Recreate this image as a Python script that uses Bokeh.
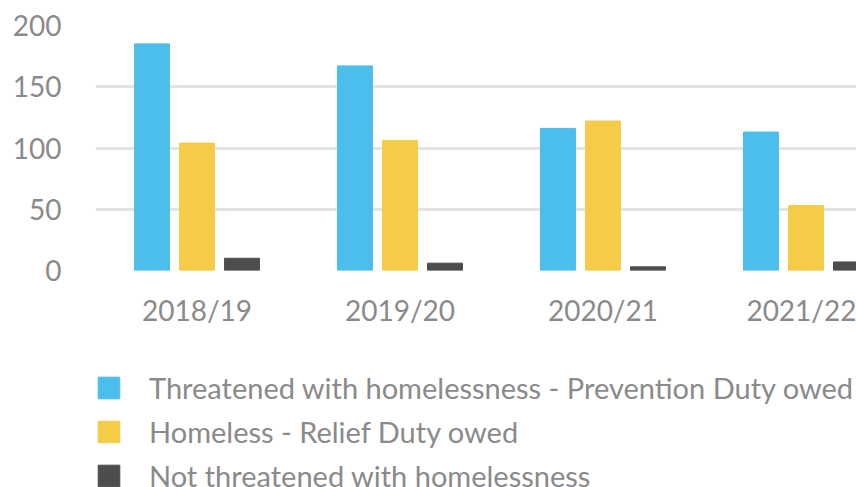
from bokeh.plotting import figure
from bokeh.layouts import column
from bokeh.models import Range1d, FixedTicker, Legend, LegendItem, ColumnDataSource
from bokeh.transform import dodge
from bokeh.embed import file_html
from bokeh.resources import INLINE

categories = ["2018/19", "2019/20", "2020/21", "2021/22"]
prevention = [185, 167, 116, 113]
relief = [104, 106, 122, 53]
not_threatened = [10, 6, 3, 7]
series_names = [
    "Threatened with homelessness - Prevention Duty owed",
    "Homeless - Relief Duty owed",
    "Not threatened with homelessness",
]
colors = ["#4BBEEC", "#F5CB47", "#4D4D4D"]

FONT = "Lato"
GREY = "#8A8A8A"

xs = [i + 0.5 for i in range(len(categories))]
src = ColumnDataSource(dict(x=xs, prevention=prevention, relief=relief, nt=not_threatened))

CH = 360
p = figure(width=856, height=CH, output_backend="svg", toolbar_location=None,
           x_range=Range1d(0, 3.749), y_range=Range1d(0, 200),
           min_border_left=95, min_border_right=0, min_border_top=25, min_border_bottom=CH - 270)
p.outline_line_color = None
p.background_fill_color = "white"
p.border_fill_color = "white"

bw = 0.172
off = 0.2217
cols = ["prevention", "relief", "nt"]
offsets = [-off, 0, off]
for c, o, col in zip(cols, offsets, colors):
    p.vbar(x=dodge("x", o), top=c, width=bw, source=src, color=col)

p.xgrid.visible = False
p.ygrid.grid_line_color = "#E4E4E4"
p.ygrid.grid_line_width = 3
p.yaxis.ticker = FixedTicker(ticks=[0, 50, 100, 150, 200])
p.xaxis.ticker = FixedTicker(ticks=xs)
p.xaxis.major_label_overrides = {x: c for x, c in zip(xs, categories)}

for ax in (p.xaxis[0], p.yaxis[0]):
    ax.axis_line_color = None
    ax.major_tick_line_color = None
    ax.minor_tick_line_color = None
    ax.major_label_text_font = FONT
    ax.major_label_text_font_size = "28px"
    ax.major_label_text_color = GREY
p.yaxis.major_label_standoff = 28
p.xaxis.major_label_standoff = 16

# legend panel (its series renderers fall outside its visible range; only the legend shows)
LH = 487 - CH
lg = figure(width=856, height=LH, output_backend="svg", toolbar_location=None,
            x_range=Range1d(0, 1), y_range=Range1d(1000, 1001),
            min_border_left=95, min_border_right=0, min_border_top=0, min_border_bottom=0)
lg.outline_line_color = None
lg.axis.visible = False
lg.grid.visible = False
rs = [lg.vbar(x="x", top=c, width=bw, source=src, color=col) for c, col in zip(cols, colors)]

legend = Legend(items=[LegendItem(label=n, renderers=[r]) for n, r in zip(series_names, rs)],
                location=(0, -6), orientation="vertical",
                border_line_color=None, background_fill_alpha=0,
                label_text_font=FONT, label_text_font_size="29px", label_text_color=GREY,
                glyph_width=27, glyph_height=27, label_standoff=27, label_height=27,
                spacing=9, padding=1, margin=0)
lg.add_layout(legend, "center")

layout = column(p, lg, spacing=0)
open("out.html", "w").write(file_html(layout, INLINE))
